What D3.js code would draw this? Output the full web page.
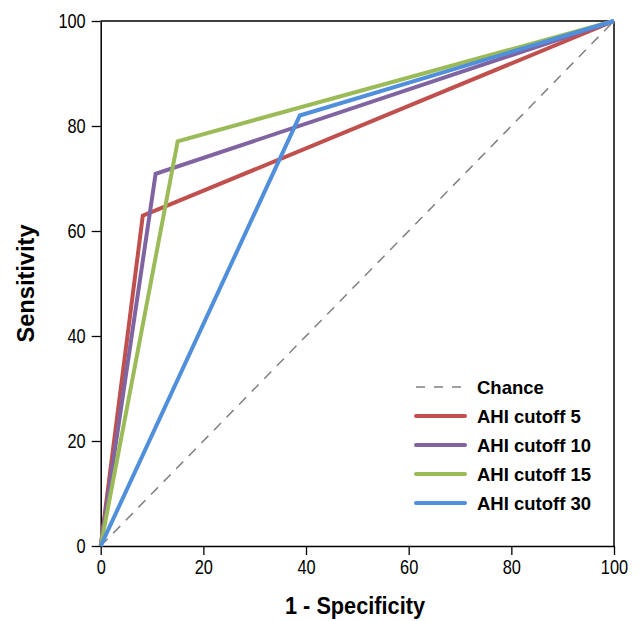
<!DOCTYPE html>
<html><head><meta charset="utf-8">
<script src="https://cdn.jsdelivr.net/npm/d3@7"></script>
<style>body{margin:0;background:#fff}</style>
</head><body>
<script>
const seriesNames = ["AHI cutoff 5", "AHI cutoff 10", "AHI cutoff 15", "AHI cutoff 30"];
const seriesColors = ["#c0504d", "#8064a2", "#9bbb59", "#4f8fdc"];
const fprValues = [[0, 8.2, 100], [0, 10.7, 100], [0, 15.0, 100], [0, 38.8, 100]];
const tprValues = [[0, 62.9, 100], [0, 70.9, 100], [0, 77.1, 100], [0, 82.0, 100]];
const chanceX = [0, 100];
const chanceY = [0, 100];
const tickValues = [0, 20, 40, 60, 80, 100];

const W = 641, H = 621;
const m = {left: 100.7, right: 27, top: 21, bottom: 75};
const svg = d3.select("body").append("svg").attr("width", W).attr("height", H);
const x = d3.scaleLinear().domain([0, 100]).range([m.left, W - m.right]);
const y = d3.scaleLinear().domain([0, 100]).range([H - m.bottom, m.top]);
const font = "'Liberation Sans',Arial,sans-serif";

// frame top/right
svg.append("line").attr("x1", x(0)).attr("x2", x(100)).attr("y1", y(100)).attr("y2", y(100)).attr("stroke", "#000").attr("stroke-width", 1.5);
svg.append("line").attr("x1", x(100)).attr("x2", x(100)).attr("y1", y(0)).attr("y2", y(100)).attr("stroke", "#000").attr("stroke-width", 1.5);

const xAxis = svg.append("g").attr("transform", `translate(0,${y(0)})`)
  .call(d3.axisBottom(x).tickValues(tickValues).tickSize(9).tickPadding(4).tickSizeOuter(0));
const yAxis = svg.append("g").attr("transform", `translate(${x(0)},0)`)
  .call(d3.axisLeft(y).tickValues(tickValues).tickSize(9).tickPadding(6).tickSizeOuter(0));
[xAxis, yAxis].forEach(g => {
  g.select(".domain").attr("stroke", "#000").attr("stroke-width", 1.5);
  g.selectAll(".tick line").attr("stroke", "#000").attr("stroke-width", 1.3);
  g.selectAll("text").attr("font-family", font).attr("font-size", 21).attr("fill", "#000")
    .attr("textLength", function () { return this.textContent.length * 9.1; })
    .attr("lengthAdjust", "spacingAndGlyphs");
});

// chance
const line = d3.line().x(d => x(d[0])).y(d => y(d[1]));
svg.append("path").datum(chanceX.map((v, i) => [v, chanceY[i]]))
  .attr("d", line).attr("fill", "none").attr("stroke", "#808080").attr("stroke-width", 1.5).attr("stroke-dasharray", "10,8");

seriesNames.forEach((n, i) => {
  svg.append("path").datum(fprValues[i].map((v, j) => [v, tprValues[i][j]]))
    .attr("d", line).attr("fill", "none").attr("stroke", seriesColors[i]).attr("stroke-width", 4).attr("stroke-linejoin", "miter");
});

// axis titles
svg.append("text").attr("x", 355).attr("y", 614).attr("text-anchor", "middle")
  .attr("font-family", font).attr("font-weight", "bold").attr("font-size", 23)
  .attr("textLength", 140).attr("lengthAdjust", "spacingAndGlyphs").text("1 - Specificity");
svg.append("text").attr("transform", `translate(33.5,${(y(0) + y(100)) / 2}) rotate(-90)`).attr("text-anchor", "middle")
  .attr("font-family", font).attr("font-weight", "bold").attr("font-size", 23)
  .attr("textLength", 118).attr("lengthAdjust", "spacingAndGlyphs").text("Sensitivity");

// legend
const legNames = ["Chance"].concat(seriesNames);
const legColors = ["#808080"].concat(seriesColors);
const lg = svg.append("g");
legNames.forEach((n, i) => {
  const yy = 387 + i * 29;
  const l = lg.append("line").attr("x1", 416).attr("x2", 465).attr("y1", yy).attr("y2", yy).attr("stroke", legColors[i]);
  if (i === 0) l.attr("stroke-width", 1.5).attr("stroke-dasharray", "9,9");
  else l.attr("stroke-width", 4).attr("stroke-linecap", "round");
  lg.append("text").attr("x", 477).attr("y", yy + 6.5).attr("font-family", font)
    .attr("font-weight", "bold").attr("font-size", 18.5).text(n);
});
</script>
</body></html>
